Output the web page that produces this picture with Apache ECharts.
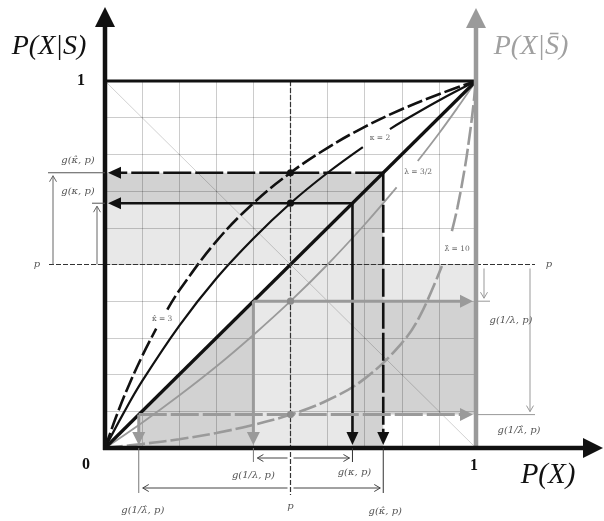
<!DOCTYPE html>
<html>
<head>
<meta charset="utf-8">
<script src="https://cdn.jsdelivr.net/npm/echarts@6/dist/echarts.min.js"></script>
<style>
  html, body { margin: 0; padding: 0; background: #fff; }
  #chart { width: 604px; height: 521px; }
</style>
</head>
<body>
<div id="chart"></div>
<script>
// Base rate and the values of g at p for each likelihood ratio
const p = 0.5;
const gKappa = 0.667;        // g(κ, p),   κ = 2
const gKappaHat = 0.75;      // g(κ̂, p),   κ̂ = 3
const gInvLambda = 0.4;      // g(1/λ, p), λ = 3/2
const gInvLambdaHat = 0.091; // g(1/λ̂, p), λ̂ = 10

// Curves P(X|S) against P(X); each one is split where its label sits
const kappaCurveLow = [[0, 0], [0.05, 0.095], [0.1, 0.182], [0.2, 0.333], [0.3, 0.462], [0.4, 0.571], [0.5, 0.667], [0.6, 0.75], [0.695, 0.82]];
const kappaCurveHigh = [[0.768, 0.869], [0.8, 0.889], [0.9, 0.947], [1, 1]];
const kappaHatCurveLow = [[0, 0], [0.01, 0.029], [0.03, 0.085], [0.06, 0.161], [0.1, 0.25], [0.138, 0.325]];
const kappaHatCurveHigh = [[0.168, 0.377], [0.2, 0.429], [0.3, 0.563], [0.4, 0.667], [0.5, 0.75], [0.6, 0.818], [0.7, 0.875], [0.8, 0.923], [0.9, 0.964], [1, 1]];
const lambdaCurveLow = [[0, 0], [0.1, 0.069], [0.2, 0.143], [0.3, 0.222], [0.4, 0.308], [0.5, 0.4], [0.6, 0.5], [0.7, 0.609], [0.786, 0.71]];
const lambdaCurveHigh = [[0.843, 0.782], [0.9, 0.857], [0.95, 0.927], [1, 1]];
const lambdaHatCurveLow = [[0, 0], [0.1, 0.011], [0.2, 0.024], [0.3, 0.041], [0.4, 0.063], [0.5, 0.091], [0.6, 0.13], [0.7, 0.189], [0.8, 0.286], [0.85, 0.362], [0.908, 0.496]];
const lambdaHatCurveHigh = [[0.935, 0.591], [0.95, 0.655], [0.97, 0.764], [0.98, 0.831], [0.99, 0.908], [1, 1]];
const diagonal = [[0, 0], [1, 1]];
const antiDiagonal = [[0, 1], [1, 0]];

// Curve captions
const curveLabels = [
  { text: 'κ = 2', at: [0.741, 0.845] },
  { text: 'λ = 3/2', at: [0.844, 0.752] },
  { text: 'λ̂ = 10', at: [0.949, 0.542] },
  { text: 'κ̂ = 3', at: [0.154, 0.351] }
];

const BLACK = '#111';
const GREY = '#9a9a9a';
const LIGHT = '#e8e8e8';
const MEDIUM = '#d2d2d2';
const SERIF = '"Liberation Serif", "DejaVu Serif", serif';
const MATH = '"DejaVu Serif", serif';

const chart = echarts.init(document.getElementById('chart'), null, { renderer: 'canvas' });

function curve(data, color, width, dash) {
  return {
    type: 'line', data, smooth: 0.4, showSymbol: false, clip: false,
    silent: true, z: 3, animation: false,
    lineStyle: { color, width, type: dash || 'solid', cap: 'butt' }
  };
}

// Shaded regions, drawn as polygons in data space
const shading = {
  type: 'custom', coordinateSystem: 'cartesian2d', clip: false, silent: true, z: 1,
  data: [[0, 0]],
  renderItem: (params, api) => {
    const poly = (pts, fill) => ({ type: 'polygon', shape: { points: pts.map(v => api.coord(v)) }, style: { fill } });
    const k = gKappa, kh = gKappaHat, l = gInvLambda, lh = gInvLambdaHat;
    return {
      type: 'group',
      children: [
        poly([[lh, 0], [l, 0], [l, lh], [1, lh], [1, l], [l, l], [lh, lh]], MEDIUM),
        poly([[l, 0], [p, 0], [p, l], [1, l], [1, p], [p, p], [l, l]], LIGHT),
        poly([[0, p], [p, p], [p, 0], [k, 0], [k, k], [0, k]], LIGHT),
        poly([[0, k], [k, k], [k, 0], [kh, 0], [kh, kh], [0, kh]], MEDIUM)
      ]
    };
  }
};

// Axes, arrows, guides, dots and all the text
const overlay = {
  type: 'custom', coordinateSystem: 'cartesian2d', clip: false, silent: true, z: 4,
  data: [[0, 0]],
  renderItem: (params, api) => {
    const pt = (x, y, dx = 0, dy = 0) => { const c = api.coord([x, y]); return [c[0] + dx, c[1] + dy]; };
    const out = [];
    const line = (a, b, stroke, width, dash) => {
      const style = { stroke, lineWidth: width, lineCap: 'butt' };
      if (dash) style.lineDash = dash;
      out.push({ type: 'line', shape: { x1: a[0], y1: a[1], x2: b[0], y2: b[1] }, style });
    };
    const arrow = (a, tip, stroke, width, len, half, opts = {}) => {
      const dx = tip[0] - a[0], dy = tip[1] - a[1];
      const d = Math.hypot(dx, dy), ux = dx / d, uy = dy / d;
      const base = [tip[0] - ux * len, tip[1] - uy * len];
      const l1 = [base[0] - uy * half, base[1] + ux * half];
      const l2 = [base[0] + uy * half, base[1] - ux * half];
      if (opts.open) {
        line(a, tip, stroke, width, opts.dash);
        out.push({ type: 'polyline', shape: { points: [l1, tip, l2] }, style: { stroke, lineWidth: width, fill: null } });
      } else {
        line(a, [tip[0] - ux * len * 0.8, tip[1] - uy * len * 0.8], stroke, width, opts.dash);
        out.push({ type: 'polygon', shape: { points: [tip, l1, l2] }, style: { fill: stroke } });
      }
    };
    const dot = (c, fill) => out.push({ type: 'circle', shape: { cx: c[0], cy: c[1], r: 3.6 }, style: { fill } });
    const txt = (text, c, font, fill) => out.push({
      type: 'text', x: c[0], y: c[1],
      style: { text, font, fill, align: 'center', verticalAlign: 'middle' }
    });

    // dashed guides through p
    line(pt(p, 1), pt(p, 0, 0, 47), '#333', 1.2, [5, 2]);
    line(pt(0, p, -56, 0), pt(1, p, 59, 0), '#333', 1.2, [5, 2]);

    // frame: top edge, grey axis for P(X|S̄), black axes
    line(pt(0, 1), pt(1, 1), BLACK, 3);
    arrow(pt(1, 0), pt(1, 0, 0, -440), GREY, 4.5, 20, 10);
    arrow(pt(0, 0, 0, 2), pt(0, 0, 0, -441), BLACK, 4.5, 20, 10);
    arrow(pt(0, 0, -2, 0), pt(0, 0, 498, 0), BLACK, 4.5, 20, 10);

    // κ projections
    arrow(pt(gKappaHat, gKappaHat), pt(0, gKappaHat, 3, 0), BLACK, 2.6, 13, 6, { dash: [28, 4] });
    arrow(pt(gKappa, gKappa), pt(0, gKappa, 3, 0), BLACK, 2.6, 13, 6);
    arrow(pt(gKappa, gKappa), pt(gKappa, 0, 0, -3), BLACK, 2.6, 13, 6);
    arrow(pt(gKappaHat, gKappaHat), pt(gKappaHat, 0, 0, -3), BLACK, 2.6, 13, 6, { dash: [28, 4] });

    // λ projections
    arrow(pt(gInvLambda, gInvLambda), pt(1, gInvLambda, -3, 0), GREY, 3, 13, 6.5);
    arrow(pt(gInvLambda, gInvLambda), pt(gInvLambda, 0, 0, -3), GREY, 3, 13, 6.5);
    arrow(pt(gInvLambdaHat, gInvLambdaHat), pt(1, gInvLambdaHat, -3, 0), GREY, 3, 13, 6.5, { dash: [28, 4] });
    arrow(pt(gInvLambdaHat, gInvLambdaHat), pt(gInvLambdaHat, 0, 0, -3), GREY, 3, 13, 6.5, { dash: [28, 4] });

    dot(pt(p, gKappa), BLACK);
    dot(pt(p, gKappaHat), BLACK);
    dot(pt(p, gInvLambda), '#8c8c8c');
    dot(pt(p, gInvLambdaHat), '#8c8c8c');

    // left-hand brackets: p up to g(κ,p) and g(κ̂,p)
    line(pt(0, gKappaHat, -57, 0), pt(0, gKappaHat), '#555', 1);
    line(pt(0, gKappa, -13, 0), pt(0, gKappa), '#555', 1);
    arrow(pt(0, p, -52, 0), pt(0, gKappaHat, -52, 3), '#666', 1, 6, 3.5, { open: true });
    arrow(pt(0, p, -8, 0), pt(0, gKappa, -8, 3), '#666', 1, 6, 3.5, { open: true });

    // right-hand brackets: p down to g(1/λ,p) and g(1/λ̂,p)
    line(pt(1, gInvLambda), pt(1, gInvLambda, 14, 0), '#999', 1);
    line(pt(1, gInvLambdaHat), pt(1, gInvLambdaHat, 59, 0), '#999', 1);
    arrow(pt(1, p, 8, 4), pt(1, gInvLambda, 8, -3), '#999', 1, 6, 3.5, { open: true });
    arrow(pt(1, p, 54, 4), pt(1, gInvLambdaHat, 54, -3), '#999', 1, 6, 3.5, { open: true });

    // brackets under the P(X) axis
    line(pt(gInvLambda, 0), pt(gInvLambda, 0, 0, 14), '#777', 1);
    line(pt(gKappa, 0), pt(gKappa, 0, 0, 14), '#333', 1);
    line(pt(gInvLambdaHat, 0), pt(gInvLambdaHat, 0, 0, 45), '#777', 1);
    line(pt(gKappaHat, 0), pt(gKappaHat, 0, 0, 45), '#333', 1);
    arrow(pt(p, 0, -3, 10), pt(gInvLambda, 0, 4, 10), '#444', 1, 6, 3.5, { open: true });
    arrow(pt(p, 0, 3, 10), pt(gKappa, 0, -3, 10), '#444', 1, 6, 3.5, { open: true });
    arrow(pt(p, 0, -3, 40), pt(gInvLambdaHat, 0, 4, 40), '#444', 1, 6, 3.5, { open: true });
    arrow(pt(p, 0, 3, 40), pt(gKappaHat, 0, -3, 40), '#444', 1, 6, 3.5, { open: true });

    // axis titles and end values
    txt('P(X|S)', pt(0, 1, -56, -34), 'italic 28px ' + SERIF, BLACK);
    txt('P(X|S̄)', pt(1, 1, 55, -34), 'italic 28px ' + SERIF, '#a0a0a0');
    txt('P(X)', pt(1, 0, 72, 27), 'italic 29px ' + SERIF, BLACK);
    txt('1', pt(0, 1, -24, 0), 'bold 16px ' + SERIF, BLACK);
    txt('0', pt(0, 0, -19, 17), 'bold 16px ' + SERIF, BLACK);
    txt('1', pt(1, 0, -2, 18), 'bold 16px ' + SERIF, BLACK);

    // small annotations
    const small = 'italic 10px ' + MATH;
    const tag = '#555';
    txt('p', pt(0, p, -68, 0), small, tag);
    txt('p', pt(1, p, 73, 0), small, tag);
    txt('p', pt(p, 0, 0, 58), small, tag);
    txt('g(κ̂, p)', pt(0, gKappaHat, -27, -12), small, tag);
    txt('g(κ, p)', pt(0, gKappa, -27, -12), small, tag);
    txt('g(1/λ, p)', pt(1, gInvLambda, 35, 19), small, tag);
    txt('g(1/λ̂, p)', pt(1, gInvLambdaHat, 43, 16), small, tag);
    txt('g(κ, p)', pt(gKappa, 0, 2, 24), small, tag);
    txt('g(κ̂, p)', pt(gKappaHat, 0, 2, 63), small, tag);
    txt('g(1/λ, p)', pt(gInvLambda, 0, 0, 27), small, tag);
    txt('g(1/λ̂, p)', pt(gInvLambdaHat, 0, 4, 62), small, tag);
    curveLabels.forEach(c => txt(c.text, pt(c.at[0], c.at[1]), '7.5px ' + MATH, '#666'));

    return { type: 'group', children: out };
  }
};

const unitAxis = {
  type: 'value', min: 0, max: 1, interval: 0.1, z: 2,
  axisLine: { show: false }, axisTick: { show: false }, axisLabel: { show: false },
  splitLine: { show: true, lineStyle: { color: 'rgba(0,0,0,0.2)', width: 1 } }
};

chart.setOption({
  animation: false,
  backgroundColor: '#fff',
  grid: { left: 105, top: 81, width: 371, height: 367 },
  xAxis: Object.assign({}, unitAxis),
  yAxis: Object.assign({}, unitAxis),
  series: [
    shading,
    curve(antiDiagonal, 'rgba(0,0,0,0.18)', 1),
    curve(lambdaCurveLow, GREY, 1.8),
    curve(lambdaCurveHigh, GREY, 1.8),
    curve(lambdaHatCurveLow, GREY, 2.6, [18, 4]),
    curve(lambdaHatCurveHigh, GREY, 2.6, [18, 4]),
    curve(diagonal, BLACK, 3.2),
    curve(kappaCurveLow, BLACK, 2.2),
    curve(kappaCurveHigh, BLACK, 2.2),
    curve(kappaHatCurveLow, BLACK, 2.6, [16, 4]),
    curve(kappaHatCurveHigh, BLACK, 2.6, [16, 4]),
    overlay
  ]
});
</script>
</body>
</html>
